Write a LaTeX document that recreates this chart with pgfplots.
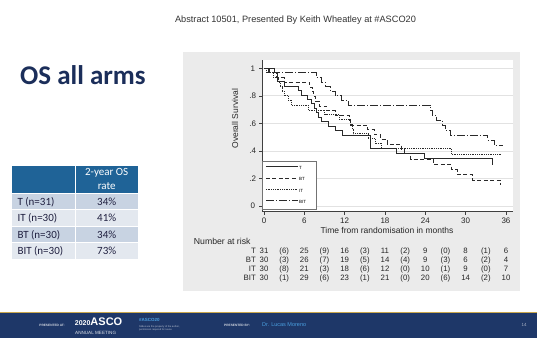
\documentclass[border=0pt]{standalone}
\usepackage{pgfplots}
\pgfplotsset{compat=1.18}
\usepackage{fontspec}
\setmainfont{Liberation Sans}
\newfontfamily\carlito{Carlito}
\definecolor{panel}{HTML}{EBEBEB}
\definecolor{navy}{HTML}{1B2E5A}
\definecolor{hdr}{HTML}{1F6397}
\definecolor{rowA}{HTML}{C8D3E2}
\definecolor{rowB}{HTML}{E3E8EF}
\definecolor{foot}{HTML}{1E3768}
\definecolor{gold}{HTML}{C9A74E}
\definecolor{lblue}{HTML}{4A9FE0}
\definecolor{gridc}{HTML}{E2E2E2}
\definecolor{tabtxt}{HTML}{202040}
\definecolor{km}{HTML}{2A2A2A}
\begin{document}
\begin{tikzpicture}[x=1pt,y=1pt]
\path[use as bounding box] (0,0) rectangle (537,342);
\fill[white] (0,0) rectangle (537,342);
\begin{scope}[y=-1pt, shift={(0pt,342pt)}]
% header
\node[font=\fontsize{9.2}{10}\selectfont, text=black!80] at (295.5,20.5) {Abstract 10501, Presented By Keith Wheatley at \#ASCO20};
% title
\node[anchor=base west, inner sep=0pt, font=\carlito\bfseries\fontsize{27}{30}\selectfont, text=navy] at (20,85) {OS all arms};
% table
\fill[hdr] (12,165.7) rectangle (138,193.5);
\fill[rowA] (12,193.5) rectangle (138,210);
\fill[rowB] (12,210) rectangle (138,226.5);
\fill[rowA] (12,226.5) rectangle (138,243);
\fill[rowB] (12,243) rectangle (138,259.5);
\draw[white, line width=1pt] (75.3,165.7) -- (75.3,259.5);
\foreach \yy in {193.5,210,226.5,243} {\draw[white, line width=1pt] (12,\yy) -- (138,\yy);}
\begin{scope}[every node/.style={font=\carlito\fontsize{11}{12}\selectfont}]
\node[text=white] at (106.7,173.3) {2-year OS};
\node[text=white] at (106.7,186.5) {rate};
\node[anchor=west, text=tabtxt] at (14,201.75) {T (n=31)};
\node[anchor=west, text=tabtxt] at (14,218.25) {IT (n=30)};
\node[anchor=west, text=tabtxt] at (14,234.75) {BT (n=30)};
\node[anchor=west, text=tabtxt] at (14,251.25) {BIT (n=30)};
\node[text=tabtxt] at (106.7,201.75) {34\%};
\node[text=tabtxt] at (106.7,218.25) {41\%};
\node[text=tabtxt] at (106.7,234.75) {34\%};
\node[text=tabtxt] at (106.7,251.25) {73\%};
\end{scope}
% grey panel
\fill[panel] (183,52.5) rectangle (520,291);
\end{scope}
\begin{axis}[
 at={(262pt,130.3pt)}, anchor=south west,
 width=250.5pt, height=151.7pt, scale only axis,
 xmin=-0.2975, xmax=36.97, ymin=-0.0414, ymax=1.0603,
 axis lines*=left, axis line style={-, draw=black!75, line width=0.6pt},
 xtick={0,6,...,36}, ytick={0,0.2,0.4,0.6,0.8,1}, yticklabels={0,.2,.4,.6,.8,1},
 tick align=outside, major tick length=3pt, tick style={draw=black!75, line width=0.6pt},
 ymajorgrids, grid style={draw=gridc, line width=0.7pt},
 axis background/.style={fill=white},
 ticklabel style={font=\fontsize{8}{9}\selectfont, text=black!85},
 /pgf/number format/assume math mode=true,
 yticklabel style={text width=10pt, align=center, inner sep=1pt},
 legend style={at={(0.001,0.016)}, anchor=south west, draw=black!55, line width=0.5pt, fill=white,
   inner xsep=3pt, inner ysep=4.5pt, font=\fontsize{4.5}{5}\selectfont, row sep=6.3pt,
   nodes={inner sep=1pt, text height=3pt, text depth=0pt}},
 legend cell align=left,
 legend image code/.code={\draw[#1] (0pt,1.5pt) -- (32pt,1.5pt);},
 every axis plot/.append style={const plot, no marks, draw=km, line width=0.7pt},
 clip=false,
]
\addplot[solid] coordinates {(0,1) (1.6,0.968) (2.0,0.903) (3.1,0.871) (5.1,0.839) (5.5,0.806) (6.4,0.774) (7.1,0.742) (7.5,0.710) (7.8,0.677) (8.1,0.645) (8.6,0.613) (9.6,0.581) (10.6,0.548) (11.7,0.516) (15.8,0.419) (19.7,0.381) (23.9,0.343) (34.0,0.300)};
\addlegendentry{\makebox[13pt][l]{T}}
\addplot[dash pattern=on 4pt off 2.5pt] coordinates {(0,1) (0.8,0.967) (1.8,0.933) (3.0,0.900) (6.8,0.865) (7.2,0.831) (7.4,0.796) (7.7,0.762) (8.2,0.727) (9.3,0.692) (10.6,0.658) (12.7,0.623) (12.9,0.589) (15.4,0.554) (16.4,0.520) (17.3,0.485) (18.3,0.450) (20.4,0.415) (20.9,0.380) (21.8,0.340) (25.2,0.302) (27.9,0.264) (28.7,0.227) (31.0,0.189) (35.1,0.151)};
\addlegendentry{\makebox[13pt][l]{BT}}
\addplot[dash pattern=on 0.8pt off 1pt] coordinates {(0,1) (0.3,0.967) (1.4,0.933) (2.2,0.900) (2.4,0.867) (2.7,0.833) (3.0,0.800) (3.6,0.767) (4.1,0.733) (6.6,0.698) (9.0,0.663) (11.2,0.628) (12.9,0.593) (13.1,0.559) (13.3,0.524) (15.5,0.489) (16.5,0.454) (17.5,0.419) (27.9,0.377) (35.4,0.377)};
\addlegendentry{\makebox[13pt][l]{IT}}
\addplot[dash pattern=on 8pt off 2pt on 1pt off 2pt] coordinates {(0,1) (0.6,0.967) (7.8,0.933) (8.6,0.900) (9.1,0.867) (9.9,0.833) (10.6,0.800) (11.5,0.767) (12.5,0.733) (24.7,0.697) (25.0,0.660) (25.7,0.623) (26.6,0.587) (27.0,0.550) (27.7,0.513) (33.3,0.477) (34.3,0.440) (35.5,0.440)};
\addlegendentry{\makebox[13pt][l]{BIT}}
\end{axis}
\begin{scope}[y=-1pt, shift={(0pt,342pt)}]
% axis titles
\node[font=\fontsize{8.5}{9}\selectfont, text=black!85] at (387,230.7) {Time from randomisation in months};
\node[rotate=90, font=\fontsize{8.5}{9}\selectfont, text=black!85] at (235,118.7) {Overall Survival};
% number at risk
\node[anchor=east, font=\fontsize{8.7}{9}\selectfont, text=black!85] at (254,241.7) {Number at risk};
\begin{scope}[every node/.style={font=\fontsize{7.8}{9}\selectfont, text=black!85, inner sep=0pt, anchor=base}]
\foreach \lab/\yy/\vals in {T/253.5/{31,(6),25,(9),16,(3),11,(2),9,(0),8,(1),6},
                            BT/262.4/{30,(3),26,(7),19,(5),14,(4),9,(3),6,(2),4},
                            IT/271.6/{30,(8),21,(3),18,(6),12,(0),10,(1),9,(0),7},
                            BIT/280.6/{30,(1),29,(6),23,(1),21,(0),20,(6),14,(2),10}} {
  \node[anchor=base east] at (256,\yy) {\lab};
  \foreach \v [count=\i from 0] in \vals {
    \node at ({264+20.166*\i},\yy) {\v};
  }
}
\end{scope}
% footer
\fill[foot] (0,312) rectangle (537,338);
\draw[gold, line width=1.2pt] (0,312.4) -- (537,312.4);
\node[font=\bfseries\fontsize{3.2}{4}\selectfont, text=white!80!foot] at (52,325) {PRESENTED AT:};
\node[anchor=west, inner sep=0pt, text=white] at (74.7,322) {{\bfseries\fontsize{7}{8}\selectfont 2020}{\bfseries\fontsize{11}{12}\selectfont ASCO}};
\node[anchor=west, inner sep=0pt, text=white!85!foot, font=\fontsize{4.6}{5}\selectfont] at (75,333) {ANNUAL MEETING};
\node[anchor=west, inner sep=0pt, text=lblue, font=\bfseries\fontsize{4.5}{5}\selectfont] at (139,320) {\#ASCO20};
\node[anchor=west, inner sep=0pt, text=white!70!foot, font=\fontsize{2.5}{3}\selectfont, align=left] at (139,328.5) {Slides are the property of the author,\\permission required for reuse.};
\node[anchor=west, inner sep=0pt, font=\bfseries\fontsize{3.2}{4}\selectfont, text=white!80!foot] at (224,325) {PRESENTED BY:};
\node[anchor=west, inner sep=0pt, font=\fontsize{5.5}{6}\selectfont, text=lblue] at (262,325) {Dr. Lucas Moreno};
\node[font=\fontsize{4.5}{5}\selectfont, text=white!60!foot] at (524,325) {14};
\end{scope}
\end{tikzpicture}
\end{document}
